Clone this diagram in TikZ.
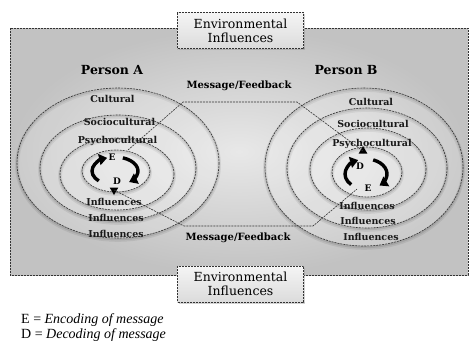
\documentclass[tikz,border=0pt]{standalone}
\usepackage{fontspec}
\setmainfont{DejaVu Serif}
\newfontfamily\legfont{Liberation Serif}
\usetikzlibrary{shapes.geometric,shadows,arrows.meta}
\begin{document}
\begin{tikzpicture}[x=1pt,y=-1pt,
  dsh/.style={draw=black!80, line width=0.6pt, dash pattern=on 2pt off 1pt},
  ringfill/.style={fill=white, fill opacity=0.16},
  ringshadowA/.style={draw=black, draw opacity=0.07, line width=4pt},
  ringshadowB/.style={draw=black, draw opacity=0.09, line width=2pt},
  lbl/.style={font=\bfseries\fontsize{9.5}{11}\selectfont, inner sep=0pt, text=black!90},
  person/.style={font=\bfseries\fontsize{12.5}{14}\selectfont, inner sep=0pt},
  msg/.style={font=\bfseries\fontsize{10}{12}\selectfont, inner sep=0pt},
  letter/.style={font=\bfseries\fontsize{9}{10}\selectfont, inner sep=0pt},
  envbox/.style={draw=black!80, line width=0.6pt, dash pattern=on 2pt off 1pt,
     top color=gray!8, bottom color=gray!28, minimum width=126pt, minimum height=36pt,
     align=center, inner sep=1pt, font=\fontsize{12.5}{14}\selectfont,
     drop shadow={opacity=0.35, shadow xshift=1pt, shadow yshift=-1.5pt}},
  tri/.style={regular polygon, regular polygon sides=3, fill=black, inner sep=0pt, minimum size=10pt},
  circarrow/.style={line width=3.4pt, -{Triangle[length=8pt,width=11pt]}},
  legend/.style={font=\legfont\fontsize{14}{16}\selectfont, inner sep=0pt, anchor=base west}
]
\useasboundingbox (0,0) rectangle (471,341);
% background
\shade[inner color=gray!18, outer color=gray!48] (10,28) rectangle (468,275);
\draw[dsh] (10,28) rectangle (468,275);
% rings
\foreach \cx/\cy/\rx/\ry in {118/163/101/75, 118/168/78/53, 117/174/57/36, 116/171/34/21,
                             364/167/99/79, 367/168/80/60, 368/169/58/41, 367/172/35/25}{
  \draw[ringshadowA] (\cx,\cy+1.8) ellipse [x radius=\rx, y radius=\ry];
  \draw[ringshadowB] (\cx,\cy+1.2) ellipse [x radius=\rx, y radius=\ry];
  \fill[ringfill] (\cx,\cy) ellipse [x radius=\rx, y radius=\ry];
  \draw[dsh] (\cx,\cy) ellipse [x radius=\rx, y radius=\ry];
}
% environment boxes
\node[envbox] (envT) at (240.5,30.5) {Environmental\\Influences};
\node[envbox] (envB) at (240.5,284) {Environmental\\Influences};
% persons
\node[person] (pA) at (112,70) {Person A};
\node[person] (pB) at (346,70) {Person B};
% message lines
\node[tri, shape border rotate=180] (tA) at (114,190) {};
\node[tri] (tB) at (363,151) {};
\coordinate (s1) at (128,150);
\coordinate (c1) at (183,102);
\coordinate (c2) at (297,102);
\coordinate (c3) at (184,226);
\coordinate (c4) at (313,226);
\coordinate (e4) at (357,189);
\draw[dsh] (s1) -- (c1) -- (c2) -- (tB.center);
\draw[dsh] (tA.center) -- (c3) -- (c4) -- (e4);
\node[msg] (mT) at (239,86) {Message/Feedback};
\node[msg] (mB) at (238,238) {Message/Feedback};
% circular arrows A
\draw[circarrow] (115,171) ++(135:23 and 14) arc[start angle=135, end angle=250, x radius=23, y radius=14];
\draw[circarrow] (115,171) ++(290:23 and 14) arc[start angle=290, end angle=412, x radius=23, y radius=14];
% circular arrows B
\draw[circarrow] (366,174) ++(135:21 and 15) arc[start angle=135, end angle=248, x radius=21, y radius=15];
\draw[circarrow] (366,174) ++(290:21 and 15) arc[start angle=290, end angle=410, x radius=21, y radius=15];
% labels A
\node[lbl] (aC) at (112.5,99) {Cultural};
\node[lbl] (aS) at (119.5,122) {Sociocultural};
\node[lbl] (aP) at (117.5,141) {Psychocultural};
\node[letter] (aE) at (112,157) {E};
\node[letter] (aD) at (117,181) {D};
\node[lbl] (aI1) at (114,202) {Influences};
\node[lbl] (aI2) at (116,218) {Influences};
\node[lbl] (aI3) at (116,234) {Influences};
% labels B
\node[lbl] (bC) at (371,102) {Cultural};
\node[lbl] (bS) at (373,124) {Sociocultural};
\node[lbl] (bP) at (372,144) {Psychocultural};
\node[letter] (bD) at (360,166) {D};
\node[letter] (bE) at (368,188) {E};
\node[lbl] (bI1) at (367,206) {Influences};
\node[lbl] (bI2) at (368,221) {Influences};
\node[lbl] (bI3) at (371,237) {Influences};
% legend
\node[legend] (lE) at (21,323) {E = \textit{Encoding of message}};
\node[legend] (lD) at (21,338) {D = \textit{Decoding of message}};
\end{tikzpicture}
\end{document}
